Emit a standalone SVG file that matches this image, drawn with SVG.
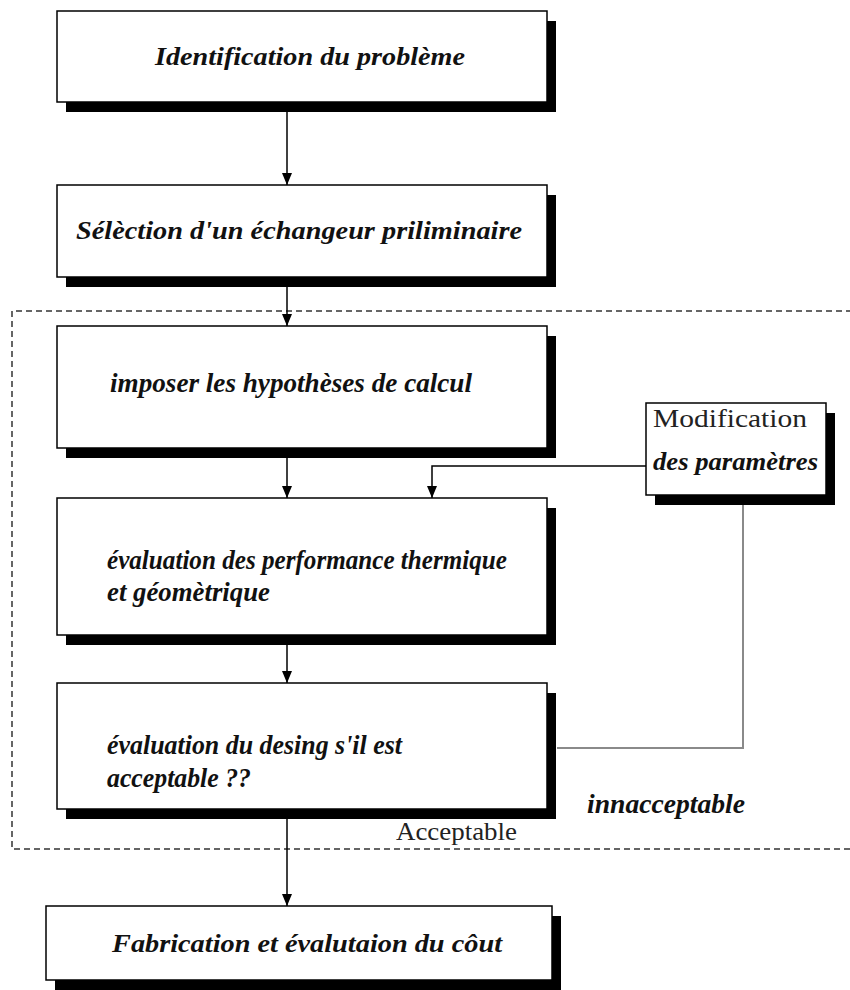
<svg xmlns="http://www.w3.org/2000/svg" width="850" height="990" viewBox="0 0 850 990">
<style>
.shadow{fill:#000}
.box{fill:#fff;stroke:#000;stroke-width:1.5}
.t{font-family:'Liberation Serif','DejaVu Serif',serif;font-weight:bold;font-style:italic;fill:#111}
.w{font-size:26px}
.c{font-size:28px}
.r{font-family:'Liberation Serif','DejaVu Serif',serif;font-size:25px;fill:#222}
.conn{fill:none;stroke:#000;stroke-width:1.5}
.gray{fill:none;stroke:#8a8a8a;stroke-width:2}
.dash{fill:none;stroke:#333;stroke-width:1.5;stroke-dasharray:6 4}
</style>
<defs>
<marker id="arr" markerUnits="userSpaceOnUse" markerWidth="12" markerHeight="10" refX="12" refY="5" orient="auto">
<path d="M0,0 L12,5 L0,10 Z" fill="#000"/>
</marker>
</defs>
<rect width="850" height="990" fill="#fff"/>
<path class="dash" d="M862,311 H12 V849 H862"/>
<g id="connectors">
<line class="conn" x1="287" y1="111" x2="287" y2="185" marker-end="url(#arr)"/>
<line class="conn" x1="287" y1="286" x2="287" y2="326" marker-end="url(#arr)"/>
<line class="conn" x1="287" y1="457" x2="287" y2="498" marker-end="url(#arr)"/>
<polyline class="conn" points="646,466 432,466 432,498" marker-end="url(#arr)"/>
<line class="conn" x1="287" y1="644" x2="287" y2="683" marker-end="url(#arr)"/>
<polyline class="gray" points="557,748 743,748 743,505"/>
<line class="conn" x1="287" y1="818" x2="287" y2="906" marker-end="url(#arr)"/>
</g>
<g id="n1">
<rect class="shadow" x="66" y="21" width="490" height="91"/>
<rect class="box" x="57" y="11" width="490" height="91"/>
<text class="t w" x="155" y="65" textLength="310" lengthAdjust="spacingAndGlyphs">Identification du problème</text>
</g>
<g id="n2">
<rect class="shadow" x="66" y="195" width="490" height="92"/>
<rect class="box" x="57" y="185" width="490" height="92"/>
<text class="t w" x="76" y="239" textLength="446" lengthAdjust="spacingAndGlyphs">Sélèction d'un échangeur priliminaire</text>
</g>
<g id="n3">
<rect class="shadow" x="66" y="336" width="490" height="122"/>
<rect class="box" x="57" y="326" width="490" height="122"/>
<text class="t c" x="110" y="392" textLength="362" lengthAdjust="spacingAndGlyphs">imposer les hypothèses de calcul</text>
</g>
<g id="n4">
<rect class="shadow" x="66" y="508" width="490" height="137"/>
<rect class="box" x="57" y="498" width="490" height="137"/>
<text class="t c" x="107" y="569" textLength="400" lengthAdjust="spacingAndGlyphs">évaluation des performance thermique</text>
<text class="t c" x="107" y="601" textLength="163" lengthAdjust="spacingAndGlyphs">et géomètrique</text>
</g>
<g id="n5">
<rect class="shadow" x="66" y="693" width="490" height="126"/>
<rect class="box" x="57" y="683" width="490" height="126"/>
<text class="t c" x="107" y="754" textLength="295" lengthAdjust="spacingAndGlyphs">évaluation du desing s'il est</text>
<text class="t c" x="107" y="787" textLength="144" lengthAdjust="spacingAndGlyphs">acceptable ??</text>
</g>
<g id="n6">
<rect class="shadow" x="55" y="916" width="506" height="74"/>
<rect class="box" x="46" y="906" width="506" height="74"/>
<text class="t w" x="112" y="952" textLength="390" lengthAdjust="spacingAndGlyphs">Fabrication et évalutaion du côut</text>
</g>
<g id="n7">
<rect class="shadow" x="655" y="413" width="180" height="92"/>
<rect class="box" x="646" y="403" width="180" height="92"/>
<text class="r" x="653" y="427" textLength="154" lengthAdjust="spacingAndGlyphs">Modification</text>
<text class="t w" x="653" y="470" textLength="165" lengthAdjust="spacingAndGlyphs">des paramètres</text>
</g>
<g id="labels">
<text class="t c" x="587" y="813" textLength="158" lengthAdjust="spacingAndGlyphs">innacceptable</text>
<text class="r" x="396" y="840" textLength="121" lengthAdjust="spacingAndGlyphs">Acceptable</text>
</g>
</svg>
